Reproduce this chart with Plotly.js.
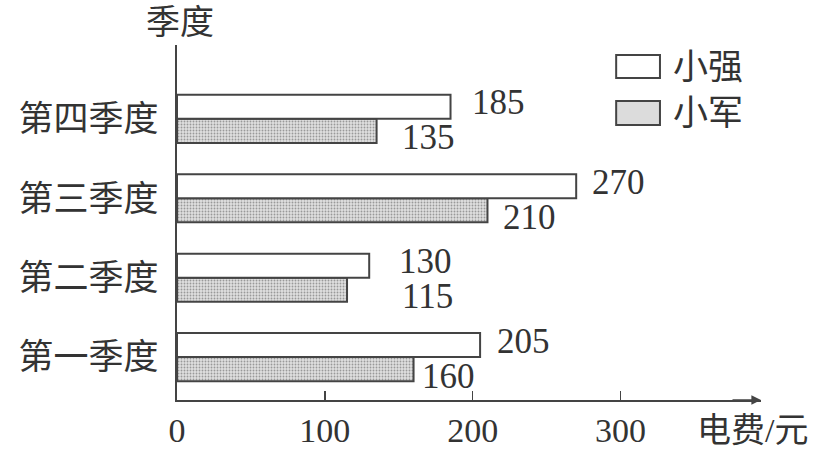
<!DOCTYPE html>
<html>
<head>
<meta charset="utf-8">
<script src="https://cdn.plot.ly/plotly-3.0.1.min.js"></script>
<style>
  html, body { margin: 0; padding: 0; background: #fff; }
  #chart { width: 827px; height: 449px; }
</style>
</head>
<body>
<div id="chart"></div>
<script>
const quarters = ["第一季度", "第二季度", "第三季度", "第四季度"]
const names = ["小强", "小军"]
const xiaoqiang = [205, 130, 270, 185]
const xiaojun = [160, 115, 210, 135]
const xTicks = [0, 100, 200, 300]

// per-label horizontal nudges so numbers sit like the printed figure
const qiangShift = [15, 28, 14, 19]
const junShift = [6, 53, 14, 23]

const fontFamily = "'Liberation Serif', 'Noto Sans CJK SC', serif"
const ink = "#333"
const grayFill = {
    shape: ".",
    bgcolor: "#e0e0e0",
    fgcolor: "#999999",
    size: 3,
    solidity: 0.3
}

const data = [
    {
        type: "bar",
        orientation: "h",
        name: names[1],
        y: quarters,
        x: xiaojun,
        marker: {color: "#e0e0e0", pattern: grayFill, line: {color: "#444", width: 2}},
        hoverinfo: "x"
    },
    {
        type: "bar",
        orientation: "h",
        name: names[0],
        y: quarters,
        x: xiaoqiang,
        marker: {color: "#ffffff", line: {color: "#444", width: 2}},
        hoverinfo: "x"
    }
]

const annotations = []
quarters.forEach((q, i) => {
    annotations.push({
        x: xiaoqiang[i], y: q, xref: "x", yref: "y",
        text: String(xiaoqiang[i]), showarrow: false,
        xanchor: "left", yanchor: "middle", xshift: qiangShift[i], yshift: 16,
        font: {size: 35, color: ink}
    })
    annotations.push({
        x: xiaojun[i], y: q, xref: "x", yref: "y",
        text: String(xiaojun[i]), showarrow: false,
        xanchor: "left", yanchor: "middle", xshift: junShift[i], yshift: -19,
        font: {size: 35, color: ink}
    })
})

// axis titles
annotations.push({
    x: 0, y: 1, xref: "paper", yref: "paper",
    text: "季度", showarrow: false, xanchor: "center", yanchor: "bottom",
    xshift: 3, yshift: 2, font: {size: 34, color: ink}
})
annotations.push({
    x: 1, y: 0, xref: "paper", yref: "paper",
    text: "电费/元", showarrow: false, xanchor: "center", yanchor: "middle",
    xshift: -9, yshift: -30, font: {size: 34, color: ink}
})
// arrow head on the x axis
annotations.push({
    x: 1, y: 0, xref: "paper", yref: "paper",
    ax: -30, ay: 0, text: "", showarrow: true,
    arrowhead: 2, arrowsize: 1.2, arrowwidth: 1.6, arrowcolor: "#444"
})

// legend drawn by hand so the swatches are as large as in the print
const shapes = [
    {type: "rect", xref: "paper", yref: "paper", x0: 0.752, x1: 0.827, y0: 0.907, y1: 0.972,
     line: {color: "#444", width: 2}, fillcolor: "#ffffff"},
    {type: "rect", xref: "paper", yref: "paper", x0: 0.752, x1: 0.827, y0: 0.775, y1: 0.842,
     line: {color: "#444", width: 2}, fillcolor: "#dcdcdc"}
]
annotations.push({
    x: 0.846, y: 0.938, xref: "paper", yref: "paper", text: names[0],
    showarrow: false, xanchor: "left", yanchor: "middle", font: {size: 35, color: ink}
})
annotations.push({
    x: 0.846, y: 0.808, xref: "paper", yref: "paper", text: names[1],
    showarrow: false, xanchor: "left", yanchor: "middle", font: {size: 35, color: ink}
})

const layout = {
    width: 827,
    height: 449,
    margin: {l: 177, r: 66, t: 45, b: 49},
    barmode: "group",
    bargap: 0.395,
    bargroupgap: 0,
    showlegend: false,
    font: {family: fontFamily, size: 34, color: ink},
    paper_bgcolor: "#ffffff",
    plot_bgcolor: "#ffffff",
    xaxis: {
        range: [0, 395],
        tickvals: xTicks,
        ticktext: xTicks.map(String),
        ticks: "inside",
        ticklen: 9,
        tickcolor: "#444",
        tickwidth: 1.5,
        showgrid: false,
        zeroline: false,
        showline: true,
        linecolor: "#444",
        linewidth: 1.6,
        ticklabelstandoff: 0,
        tickfont: {size: 34, color: ink},
        fixedrange: true
    },
    yaxis: {
        type: "category",
        categoryorder: "array",
        categoryarray: quarters,
        range: [-0.54, 3.93],
        ticks: "",
        showgrid: false,
        zeroline: false,
        showline: true,
        linecolor: "#444",
        linewidth: 1.6,
        ticklabelstandoff: 10,
        tickfont: {size: 35, color: ink},
        fixedrange: true
    },
    shapes: shapes,
    annotations: annotations
}

Plotly.newPlot("chart", data, layout, {displayModeBar: false, staticPlot: true})
</script>
</body>
</html>
